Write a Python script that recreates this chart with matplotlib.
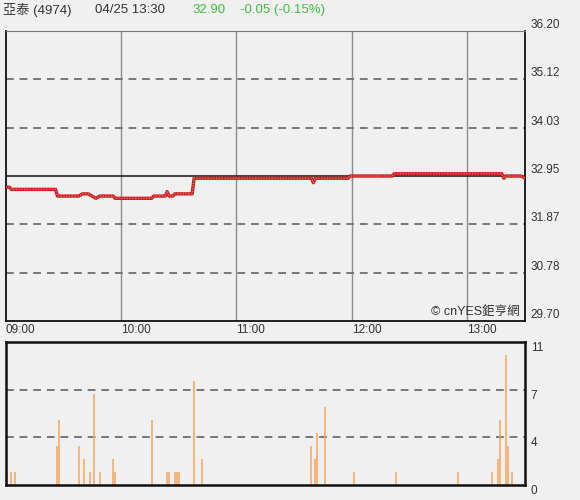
import matplotlib.pyplot as plt

plt.rcParams['font.family'] = ['Liberation Sans', 'Noto Sans CJK TC', 'DejaVu Sans']

# 分時價格 (分鐘, 價格) 轉折點
price_t = [0, 2, 3, 26, 27, 38, 40, 43, 45, 47, 49, 56, 57, 76, 77, 83, 84, 85, 87, 88,
           97, 98, 159, 160, 161, 178, 179, 201, 202, 258, 259, 260, 268, 270]
price = [32.70, 32.70, 32.65, 32.65, 32.50, 32.50, 32.55, 32.55, 32.50, 32.45, 32.50, 32.50,
         32.45, 32.45, 32.50, 32.50, 32.60, 32.50, 32.50, 32.55, 32.55, 32.90, 32.90, 32.80,
         32.90, 32.90, 32.95, 32.95, 33.00, 33.00, 32.90, 32.95, 32.95, 32.90]

# 成交量
vol_t = [0, 1, 3, 5, 27, 28, 38, 41, 44, 46, 49, 56, 57, 76, 84, 85, 88, 89, 90, 98, 102,
         159, 161, 162, 166, 181, 203, 235, 253, 256, 257, 260, 261, 263]
vol = [1, 1, 1, 1, 3, 5, 3, 2, 1, 7, 1, 2, 1, 5, 1, 1, 1, 1, 1, 8, 2,
       3, 2, 4, 6, 1, 1, 1, 1, 2, 5, 10, 3, 1]

prev_close = 32.95
price_ticks = [36.20, 35.12, 34.03, 32.95, 31.87, 30.78, 29.70]
hour_ticks = [0, 60, 120, 180, 240]
hour_labels = ['09:00', '10:00', '11:00', '12:00', '13:00']
vol_max = 11
vol_ticks = [11, 22 / 3, 11 / 3, 0]
vol_labels = ['11', '7', '4', '0']

bg = '#f0f0f0'
fig = plt.figure(figsize=(5.8, 5.0), dpi=100, facecolor=bg)

# 價格圖
ax = fig.add_axes([0.0095, 0.358, 0.8957, 0.58], facecolor=bg)
ax.set_xlim(0, 270)
ax.set_ylim(29.70, 36.20)
for h in hour_ticks[1:]:
    ax.axvline(h, color='#8c8c8c', lw=1, zorder=1)
for y in price_ticks[1:-1]:
    if y == prev_close:
        ax.axhline(y, color='#222222', lw=1.2, zorder=2)
    else:
        ax.axhline(y, color='#777777', lw=1.4, ls=(0, (4, 3)), zorder=1)
ax.plot(price_t, price, color='#c81e1e', lw=2.4, zorder=3)
ax.plot(price_t, price, color='#e86a6a', lw=1.0, ls=(0, (1, 1)), zorder=4)

ax.yaxis.tick_right()
ax.set_yticks(price_ticks)
ax.set_yticklabels([f'{v:.2f}' for v in price_ticks])
for lab in ax.get_yticklabels():
    lab.set_va('bottom')
ax.tick_params(axis='y', length=0, pad=4, labelsize=8.5, colors='#333333')
ax.set_xticks(hour_ticks)
ax.set_xticklabels(hour_labels)
for lab in ax.get_xticklabels():
    lab.set_ha('left')
ax.tick_params(axis='x', length=0, pad=2, labelsize=8.5, colors='#333333')
for s in ['left', 'right', 'bottom']:
    ax.spines[s].set_color('#111111')
    ax.spines[s].set_linewidth(1.3)
ax.spines['top'].set_color('#777777')
ax.text(0.99, 0.012, '© cnYES鉅亨網', transform=ax.transAxes, ha='right', va='bottom',
        fontsize=9, color='#333333')

# 成交量圖
ax2 = fig.add_axes([0.0095, 0.03, 0.8957, 0.286], facecolor=bg)
ax2.set_xlim(0, 270)
ax2.set_ylim(0, vol_max)
for y in vol_ticks[1:-1]:
    ax2.axhline(y, color='#777777', lw=1.4, ls=(0, (4, 3)), zorder=1)
ax2.vlines(vol_t, 0, vol, color='#f5a55e', lw=1.1, zorder=2)
ax2.yaxis.tick_right()
ax2.set_yticks(vol_ticks)
ax2.set_yticklabels(vol_labels)
for lab in ax2.get_yticklabels():
    lab.set_va('top')
ax2.tick_params(axis='y', length=0, pad=4, labelsize=8.5, colors='#333333')
ax2.set_xticks([])
for s in ax2.spines.values():
    s.set_color('#111111')
    s.set_linewidth(1.8)

# 標題列
fig.text(3 / 580, 1 - 10 / 500, '亞泰 (4974)', fontsize=9.5, color='#333333', va='center')
fig.text(95 / 580, 1 - 10 / 500, '04/25 13:30', fontsize=9.5, color='#333333', va='center')
fig.text(192 / 580, 1 - 10 / 500, '32.90', fontsize=9.5, color='#44bb44', va='center')
fig.text(240 / 580, 1 - 10 / 500, '-0.05 (-0.15%)', fontsize=9.5, color='#44bb44', va='center')

fig.savefig('out.png', dpi=100, facecolor=bg)
